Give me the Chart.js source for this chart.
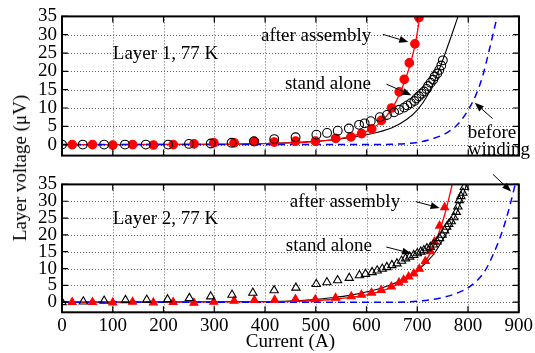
<!DOCTYPE html>
<html>
<head>
<meta charset="utf-8">
<script src="https://cdn.jsdelivr.net/npm/chart.js@4.4.0/dist/chart.umd.min.js"></script>
<style>
  html, body { margin: 0; padding: 0; background: #fff; }
  #wrap { position: relative; width: 535px; height: 353px; overflow: hidden; }
  #top { position: absolute; left: 0; top: 0; }
  #bot { position: absolute; left: 0; top: 168px; }
  #ytitle {
    position: absolute; left: 20px; top: 168px;
    transform: translate(-50%, -50%) rotate(-90deg);
    font: 19px "Liberation Serif", serif; color: #000; white-space: nowrap;
  }
</style>
</head>
<body>
<div id="wrap">
  <canvas id="top" width="535" height="172"></canvas>
  <canvas id="bot" width="535" height="185"></canvas>
  <div id="ytitle">Layer voltage (μV)</div>
</div>
<script>
// tick labels
const xTickVals = [0, 100, 200, 300, 400, 500, 600, 700, 800, 900];
const yTickVals = [0, 5, 10, 15, 20, 25, 30, 35];

// Layer 1 - measured points (current A, voltage uV)
const l1AfterI = [20, 60, 100, 139, 180, 219, 260, 299, 339, 379, 418, 460, 499, 539, 569, 590, 610, 629, 649, 664, 674, 684, 695, 703];
const l1AfterV = [0, 0, -0.15, 0, -0.1, 0, 0.2, 0.5, 0.5, 0.8, 0.7, 0.95, 0.95, 1.7, 2.1, 3.0, 4.3, 6.6, 10, 14.4, 17.8, 22.3, 27.5, 34.7];
const l1StandI = [0, 41, 83, 124, 165, 209, 250, 293, 334, 378, 418, 460, 501, 522, 543, 565, 585, 596, 608, 626,
                  640, 654, 664, 674, 680, 687, 694, 698, 703, 708, 713, 718, 721, 726, 731, 734, 739, 743, 747, 750];
const l1StandV = [0, 0, 0, 0, 0, 0, 0.2, 0.3, 0.5, 0.9, 1.5, 2.0, 2.7, 3.2, 3.8, 4.4, 5.4, 5.8, 6.4, 7.5,
                  8.1, 8.8, 9.5, 10.1, 10.7, 11.3, 11.9, 12.6, 13.2, 13.9, 14.5, 15.2, 16.0, 16.9, 17.7, 18.6, 19.4, 20.4, 21.6, 23.0];

// Layer 1 - fitted curves
const l1AfterFitI = [0, 300, 400, 450, 500, 550, 600, 625, 650, 670, 685, 695, 705];
const l1AfterFitV = [0, 0.05, 0.25, 0.45, 0.85, 1.7, 3.6, 5.8, 9.8, 15.5, 21.5, 27, 35];
const l1StandFitI = [0, 300, 400, 500, 550, 600, 650, 680, 700, 720, 740, 760, 780];
const l1StandFitV = [0, 0.1, 0.3, 0.9, 1.6, 2.7, 4.6, 7.0, 9.5, 13.5, 19.5, 27, 35];
const l1BeforeI = [0, 600, 650, 700, 730, 760, 780, 800, 815, 828, 840, 852, 857];
const l1BeforeV = [0, 0, 0.1, 0.6, 1.6, 3.4, 5.6, 9.5, 13.5, 18.5, 25, 32, 35];

// Layer 2 - measured points
const l2AfterI = [20, 60, 100, 139, 180, 219, 260, 299, 339, 379, 419, 460, 499, 539, 570, 590, 610, 629, 649, 664,
                  673, 683, 693, 704, 716, 726, 734, 744, 754];
const l2AfterV = [0, 0, -0.1, 0.1, -0.1, 0, -0.2, 0.1, 0.4, 0.6, 0.7, 0.9, 0.8, 1.3, 1.7, 2.2, 2.8, 3.6, 4.6, 5.8,
                  6.6, 7.6, 8.5, 9.9, 12.2, 15.1, 18, 22.7, 28.2];
const l2StandI = [0, 42, 83, 125, 167, 208, 251, 293, 335, 376, 418, 461, 501, 522, 543, 566, 586, 598, 611, 621,
                  631, 640, 650, 660, 669, 677, 685, 693, 700, 707, 713, 719, 726, 732, 739, 744, 749, 754, 758, 762,
                  767, 772, 777, 780, 783, 786, 790, 793];
const l2StandV = [0, 0.2, 0.4, 0.6, 0.7, 0.8, 1.2, 1.7, 2.2, 2.8, 3.5, 4.3, 5.4, 5.9, 6.5, 7.2, 8.0, 8.4, 8.9, 9.4,
                  9.9, 10.4, 11.0, 11.5, 12.3, 13.0, 13.5, 14.0, 14.5, 15.0, 15.4, 16.0, 16.4, 17.1, 18.0, 19.0, 20.0, 21.3, 22.4, 23.2,
                  24.0, 25.2, 26.8, 28.4, 30.3, 31.5, 32.5, 34.2];

// Layer 2 - fitted curves
const l2AfterFitI = [0, 400, 500, 550, 600, 640, 670, 700, 720, 740, 755, 769];
const l2AfterFitV = [0, 0.1, 0.5, 1.1, 2.2, 3.9, 6.0, 9.2, 13, 19.5, 26.5, 35];
const l2StandFitI = [0, 400, 470, 530, 570, 630, 665, 700, 730, 750, 770, 790, 797];
const l2StandFitV = [0, 0.2, 0.5, 1.3, 2.1, 4.2, 6.3, 9.4, 13.8, 18.5, 24, 31.5, 35];
const l2BeforeI = [0, 650, 700, 750, 780, 806, 833, 852, 869, 882, 893];
const l2BeforeV = [0, 0, 0.3, 1.4, 2.8, 4.9, 9.2, 15, 21.7, 28.4, 35];

const FONT = '"Liberation Serif", "Times New Roman", serif';
Chart.defaults.font.family = FONT;
Chart.defaults.font.size = 19;
Chart.defaults.color = '#000';

const pts = (xs, ys) => xs.map((x, i) => ({ x, y: ys[i] }));

function fitLine(xs, ys, color, dash, width, order) {
  return {
    data: pts(xs, ys), borderColor: color, borderWidth: width, borderDash: dash,
    pointRadius: 0, cubicInterpolationMode: 'monotone', fill: false, order
  };
}
function markers(xs, ys, style, fill, edge, r) {
  return {
    data: pts(xs, ys), showLine: false, pointStyle: style, pointRadius: r,
    pointBackgroundColor: fill, pointBorderColor: edge, pointBorderWidth: 1.1, order: 0
  };
}

function arrow(ctx, x1, y1, x2, y2) {
  const a = Math.atan2(y2 - y1, x2 - x1), L = 9, W = 3.5;
  ctx.beginPath(); ctx.moveTo(x1, y1); ctx.lineTo(x2 - L * Math.cos(a), y2 - L * Math.sin(a)); ctx.stroke();
  ctx.beginPath();
  ctx.moveTo(x2, y2);
  ctx.lineTo(x2 - L * Math.cos(a) + W * Math.sin(a), y2 - L * Math.sin(a) - W * Math.cos(a));
  ctx.lineTo(x2 - L * Math.cos(a) - W * Math.sin(a), y2 - L * Math.sin(a) + W * Math.cos(a));
  ctx.closePath(); ctx.fill();
}

// dotted grid, box around the plot, inward ticks, then text labels and arrows
const decor = {
  id: 'decor',
  beforeDatasetsDraw(chart) {
    const { ctx, chartArea: c, scales: { x, y } } = chart;
    ctx.save();
    ctx.strokeStyle = '#666'; ctx.lineWidth = 1; ctx.setLineDash([1, 2]);
    xTickVals.forEach(v => {
      const px = Math.round(x.getPixelForValue(v)) + 0.5;
      ctx.beginPath(); ctx.moveTo(px, c.top); ctx.lineTo(px, c.bottom); ctx.stroke();
    });
    yTickVals.forEach(v => {
      const py = Math.round(y.getPixelForValue(v)) + 0.5;
      ctx.beginPath(); ctx.moveTo(c.left, py); ctx.lineTo(c.right, py); ctx.stroke();
    });
    ctx.restore();
  },
  afterDraw(chart, args, opts) {
    const { ctx, chartArea: c, scales: { x, y } } = chart;
    ctx.save();
    ctx.strokeStyle = '#000'; ctx.fillStyle = '#000';
    ctx.lineWidth = 1.2;
    xTickVals.forEach(v => {
      const px = x.getPixelForValue(v);
      ctx.beginPath();
      ctx.moveTo(px, c.top); ctx.lineTo(px, c.top + 6);
      ctx.moveTo(px, c.bottom); ctx.lineTo(px, c.bottom - 6);
      ctx.stroke();
    });
    yTickVals.forEach(v => {
      const py = y.getPixelForValue(v);
      ctx.beginPath();
      ctx.moveTo(c.left, py); ctx.lineTo(c.left + 6, py);
      ctx.moveTo(c.right, py); ctx.lineTo(c.right - 6, py);
      ctx.stroke();
    });
    ctx.lineWidth = 2;
    ctx.strokeRect(c.left, c.top, c.right - c.left, c.bottom - c.top);

    ctx.font = '19px ' + FONT;
    ctx.textBaseline = 'middle'; ctx.textAlign = 'left';
    (opts.labels || []).forEach(l => ctx.fillText(l.text, x.getPixelForValue(l.at[0]), y.getPixelForValue(l.at[1])));
    ctx.lineWidth = 1;
    (opts.arrows || []).forEach(a => arrow(ctx,
      x.getPixelForValue(a[0]), y.getPixelForValue(a[1]),
      x.getPixelForValue(a[2]), y.getPixelForValue(a[3])));
    ctx.restore();
  }
};

function scales(showX) {
  return {
    x: {
      type: 'linear', min: 0, max: 900,
      afterBuildTicks: s => { s.ticks = xTickVals.map(value => ({ value })); },
      afterFit: s => { s.height = showX ? 40.7 : 0; },
      grid: { display: false, drawTicks: false },
      border: { display: false },
      ticks: { display: showX, padding: 2, maxRotation: 0, autoSkip: false },
      title: { display: showX, text: 'Current (A)', padding: { top: 0, bottom: 0 } }
    },
    y: {
      type: 'linear', min: -3, max: 35,
      afterBuildTicks: s => { s.ticks = yTickVals.map(value => ({ value })); },
      afterFit: s => { s.width = 62; },
      grid: { display: false, drawTicks: false },
      border: { display: false },
      ticks: { padding: 5, autoSkip: false }
    }
  };
}

const common = {
  responsive: false, animation: false,
  plugins: { legend: { display: false }, tooltip: { enabled: false } }
};

new Chart(document.getElementById('top'), {
  type: 'line',
  data: {
    datasets: [
      fitLine(l1StandFitI, l1StandFitV, '#000', [], 1.1, 3),
      fitLine(l1AfterFitI, l1AfterFitV, '#ff0000', [], 1.3, 2),
      fitLine(l1BeforeI, l1BeforeV, '#0000ff', [7, 5], 1.5, 1),
      markers(l1StandI, l1StandV, 'circle', 'rgba(255,255,255,0)', '#000', 4.4),
      markers(l1AfterI, l1AfterV, 'circle', '#ff0000', '#ff0000', 4.3)
    ]
  },
  options: {
    ...common,
    layout: { padding: { top: 16, right: 16, bottom: 8, left: 0 } },
    scales: scales(false),
    plugins: {
      ...common.plugins,
      decor: {
        labels: [
          { text: 'Layer 1, 77 K', at: [100, 24.7] },
          { text: 'after assembly', at: [392, 29.6] },
          { text: 'stand alone', at: [439, 16.5] },
          { text: 'before', at: [799, 3.2] },
          { text: 'winding', at: [799, -1.4] }
        ],
        arrows: [
          [632, 30.1, 682, 28.0],
          [639, 16.5, 688, 13.5],
          [848, 7.1, 813, 11.4]
        ]
      }
    }
  },
  plugins: [decor]
});

new Chart(document.getElementById('bot'), {
  type: 'line',
  data: {
    datasets: [
      fitLine(l2StandFitI, l2StandFitV, '#000', [], 1.1, 3),
      fitLine(l2AfterFitI, l2AfterFitV, '#ff0000', [], 1.3, 2),
      fitLine(l2BeforeI, l2BeforeV, '#0000ff', [7, 5], 1.5, 1),
      markers(l2StandI, l2StandV, 'triangle', 'rgba(255,255,255,0)', '#000', 4.8),
      markers(l2AfterI, l2AfterV, 'triangle', '#ff0000', '#ff0000', 4.6)
    ]
  },
  options: {
    ...common,
    layout: { padding: { top: 12, right: 16, bottom: 0, left: 0 } },
    scales: scales(true),
    plugins: {
      ...common.plugins,
      decor: {
        labels: [
          { text: 'Layer 2, 77 K', at: [100, 24.8] },
          { text: 'after assembly', at: [449, 29.7] },
          { text: 'stand alone', at: [441, 16.7] }
        ],
        arrows: [
          [697, 29.9, 744, 28.0],
          [639, 16.4, 688, 14.5],
          [849, 38.0, 885, 32.9]
        ]
      }
    }
  },
  plugins: [decor]
});
</script>
</body>
</html>
